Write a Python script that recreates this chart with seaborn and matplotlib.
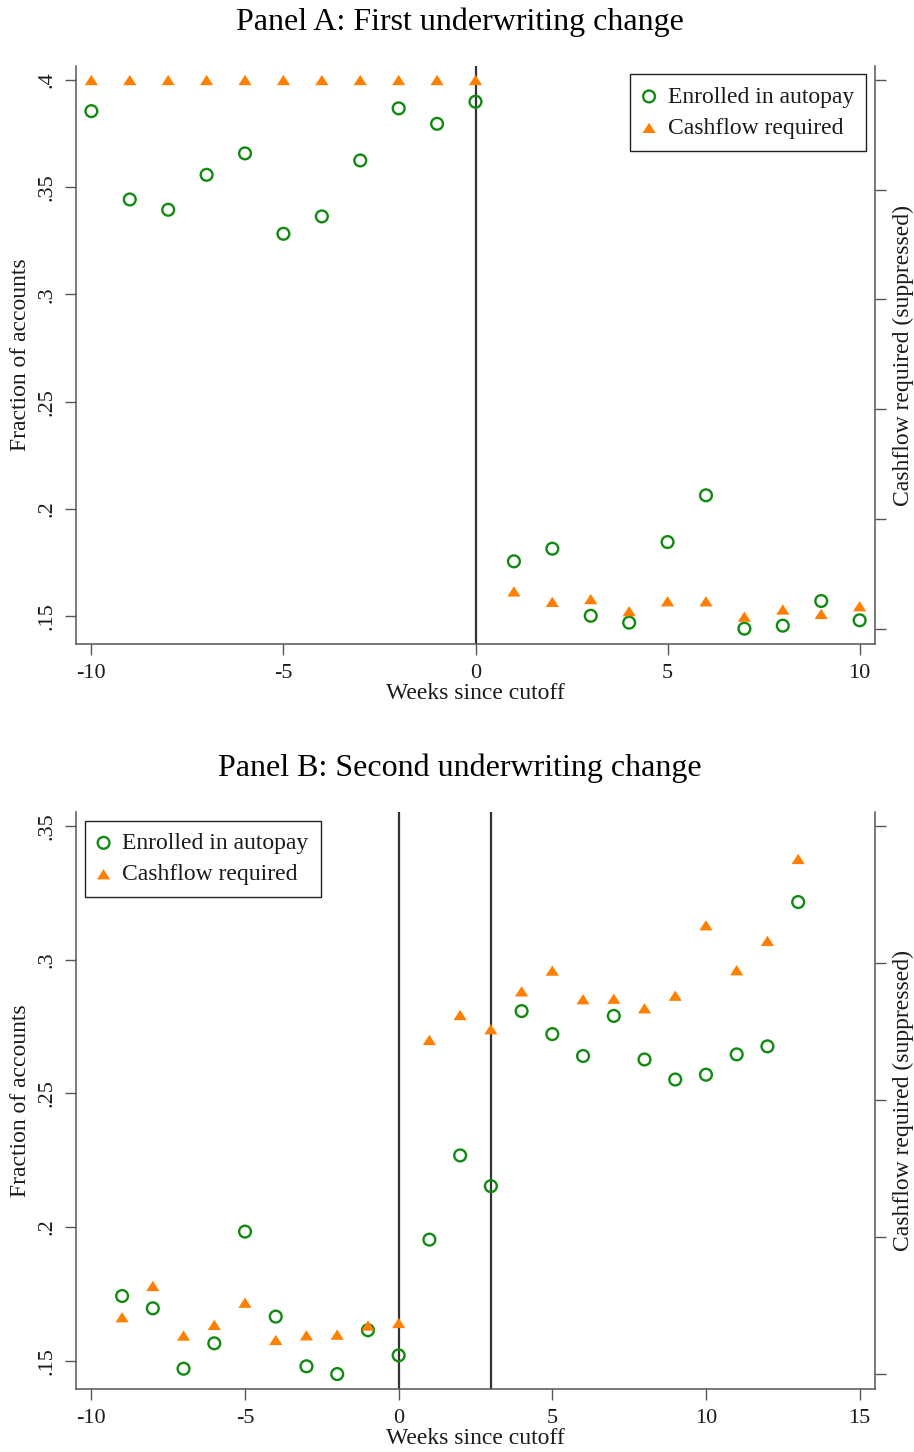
import matplotlib
matplotlib.use("Agg")
import matplotlib.pyplot as plt
import seaborn as sns

# ---- data ----
weeks_a = list(range(-10, 11))
autopay_a = [0.3855, 0.3443, 0.3395, 0.3558, 0.3658, 0.3283, 0.3364, 0.3625, 0.3868, 0.3796, 0.3899,
             0.1755, 0.1814, 0.1501, 0.1469, 0.1845, 0.2063, 0.1441, 0.1455, 0.1570, 0.1480]
cashflow_a = [1.0, 1.0, 1.0, 1.0, 1.0, 1.0, 1.0, 1.0, 1.0, 1.0, 1.0,
              0.068, 0.049, 0.054, 0.032, 0.050, 0.050, 0.022, 0.035, 0.027, 0.041]

weeks_b = list(range(-9, 14))
autopay_b = [0.1742, 0.1696, 0.1470, 0.1565, 0.1983, 0.1665, 0.1479, 0.1450, 0.1614, 0.1520,
             0.1953, 0.2268, 0.2153, 0.2808, 0.2722, 0.2640, 0.2790, 0.2627, 0.2552, 0.2570,
             0.2646, 0.2676, 0.3216]
cashflow_b = [0.0414, 0.0642, 0.0280, 0.0358, 0.0520, 0.0248, 0.0282, 0.0287, 0.0353, 0.0372,
              0.2438, 0.2620, 0.2516, 0.2793, 0.2944, 0.2735, 0.2739, 0.2669, 0.2761, 0.3275,
              0.2947, 0.3161, 0.3759]

cutoffs_a = [0]
cutoffs_b = [0, 3]

yticks_a = [0.15, 0.2, 0.25, 0.3, 0.35, 0.4]
yticklabels_a = [".15", ".2", ".25", ".3", ".35", ".4"]
yticks_b = [0.15, 0.2, 0.25, 0.3, 0.35]
yticklabels_b = [".15", ".2", ".25", ".3", ".35"]
xticks_a = [-10, -5, 0, 5, 10]
xticks_b = [-10, -5, 0, 5, 10, 15]
rticks_a = [0, 0.2, 0.4, 0.6, 0.8, 1.0]
rticks_b = [0, 0.1, 0.2, 0.3, 0.4]

label_auto = "Enrolled in autopay"
label_cash = "Cashflow required"

# ---- style ----
sns.set_style("ticks")
plt.rcParams["font.family"] = ["Liberation Serif", "DejaVu Serif"]

GREEN = "#118a11"
ORANGE = "#ff8000"
SPINE = "#555555"
TEXT = "#1a1a1a"
TRI = [(0, 0.78), (-1, -0.78), (1, -0.78)]

W, H = 914, 1452
fig = plt.figure(figsize=(W / 100, H / 100), dpi=100)


def rect(l, t, r, b):
    return [l / W, 1 - b / H, (r - l) / W, (b - t) / H]


def panel(axrect, weeks, auto, cash, cutoffs, xlim, ylim, rlim,
          yt, ytl, xt, rt, legend_anchor, legend_loc):
    ax = fig.add_axes(axrect)
    ax2 = ax.twinx()
    ax.set_zorder(2)
    ax2.set_zorder(3)
    ax.patch.set_visible(False)
    ax2.patch.set_visible(False)

    for c in cutoffs:
        ax.axvline(c, color="#333333", lw=1.6, zorder=1)

    sns.scatterplot(x=weeks, y=auto, ax=ax, marker="o", s=72,
                    facecolors="none", edgecolor=GREEN, linewidth=1.7,
                    label=label_auto, zorder=4, legend=False)
    sns.scatterplot(x=weeks, y=cash, ax=ax2, marker=TRI, s=90,
                    color=ORANGE, edgecolor="none", linewidth=0,
                    label=label_cash, zorder=4, legend=False)

    ax.set_xlim(*xlim)
    ax.set_ylim(*ylim)
    ax2.set_ylim(*rlim)

    ax.set_xticks(xt)
    ax.set_xticklabels([str(v) for v in xt], fontsize=16, color=TEXT)
    ax.set_yticks(yt)
    ax.set_yticklabels(ytl, rotation=90, va="center", fontsize=16, color=TEXT)
    ax2.set_yticks(rt)
    ax2.set_yticklabels([])

    ax.set_xlabel("Weeks since cutoff", fontsize=17, labelpad=0, color=TEXT)
    ax.set_ylabel("Fraction of accounts", fontsize=17, labelpad=5, color=TEXT)
    ax2.set_ylabel("Cashflow required (suppressed)", fontsize=17, labelpad=3, color=TEXT)

    for a in (ax, ax2):
        a.spines["top"].set_visible(False)
        for s in ("left", "right", "bottom"):
            a.spines[s].set_color(SPINE)
            a.spines[s].set_linewidth(1.1)
        a.tick_params(axis="both", length=8, width=1.0, color=SPINE, pad=6)
    ax.spines["right"].set_visible(False)
    ax2.spines["left"].set_visible(False)
    ax2.spines["bottom"].set_visible(False)
    ax2.tick_params(axis="y", length=8, pad=2)

    h1, l1 = ax.get_legend_handles_labels()
    h2, l2 = ax2.get_legend_handles_labels()
    leg = ax2.legend(h1 + h2, l1 + l2, loc=legend_loc,
                     bbox_to_anchor=legend_anchor, bbox_transform=fig.transFigure,
                     fontsize=17, frameon=True, fancybox=False,
                     edgecolor="#222222", framealpha=1, borderpad=0.5,
                     labelspacing=0.42, handletextpad=0.5, handlelength=0.6,
                     borderaxespad=0)
    leg.get_frame().set_linewidth(1.0)
    for t in leg.get_texts():
        t.set_color(TEXT)
    return ax, ax2


panel(rect(76, 65.7, 875, 644.3), weeks_a, autopay_a, cashflow_a, cutoffs_a,
      (-10.4, 10.4), (0.1368, 0.4067), (-0.0284, 1.0261),
      yticks_a, yticklabels_a, xticks_a, rticks_a,
      (866 / W, 1 - 74.3 / H), "upper right")

panel(rect(76, 811.7, 875, 1389.3), weeks_b, autopay_b, cashflow_b, cutoffs_b,
      (-10.5, 15.5), (0.1393, 0.3554), (-0.0112, 0.4104),
      yticks_b, yticklabels_b, xticks_b, rticks_b,
      (84.7 / W, 1 - 820.7 / H), "upper left")

fig.text(460 / W, 1 - 22 / H, "Panel A: First underwriting change",
         ha="center", va="center", fontsize=23, color="#000000")
fig.text(460 / W, 1 - 768 / H, "Panel B: Second underwriting change",
         ha="center", va="center", fontsize=23, color="#000000")

fig.savefig("out.png", dpi=100, facecolor="white")
